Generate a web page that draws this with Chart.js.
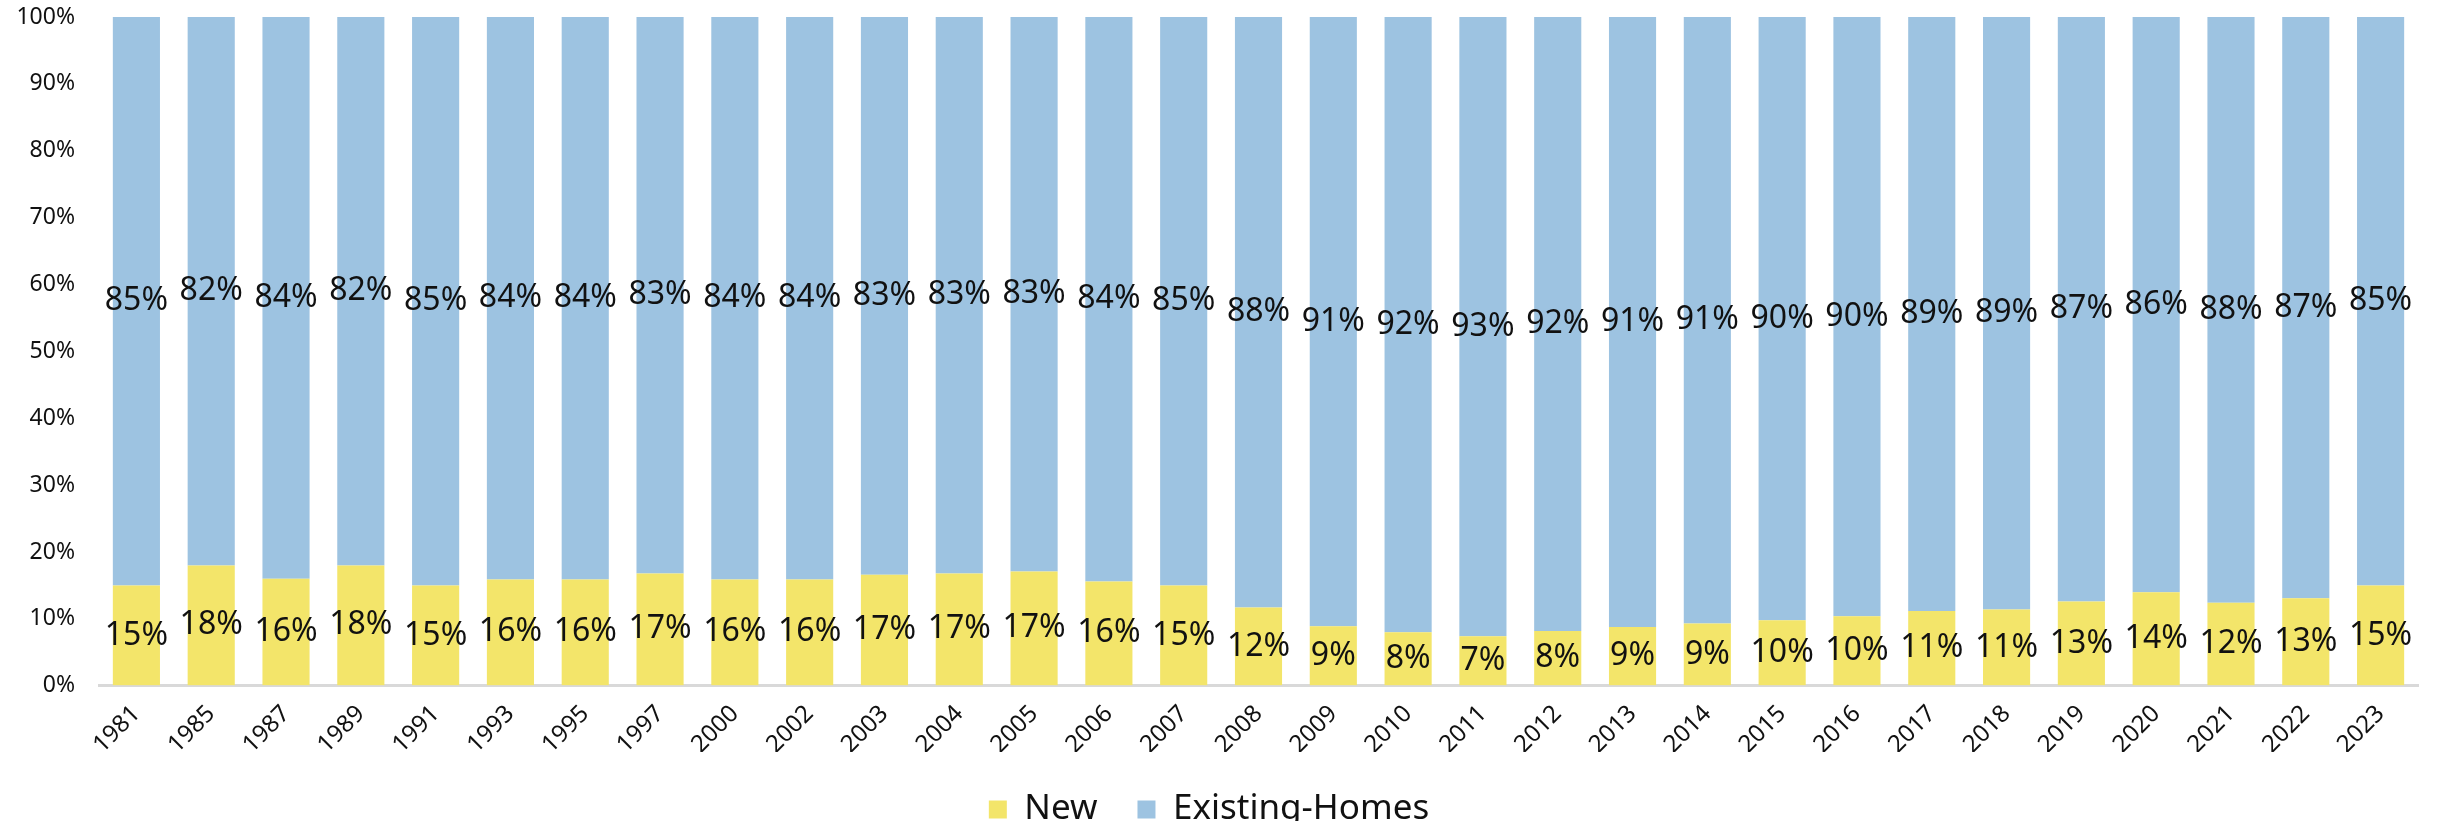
<!DOCTYPE html>
<html>
<head>
<meta charset="utf-8">
<script src="https://cdn.jsdelivr.net/npm/chart.js@4.4.1/dist/chart.umd.min.js"></script>
<style>
    html, body { margin: 0; padding: 0; background: #fff; }
    #wrap { width: 2438px; height: 821px; position: relative; }
</style>
</head>
<body>
<div id="wrap"><canvas id="shareChart"></canvas></div>
<script>
const years = ['1981', '1985', '1987', '1989', '1991', '1993', '1995', '1997', '2000', '2002',
    '2003', '2004', '2005', '2006', '2007', '2008', '2009', '2010', '2011', '2012',
    '2013', '2014', '2015', '2016', '2017', '2018', '2019', '2020', '2021', '2022', '2023'];

const newShare = [15, 18, 16, 18, 15, 15.9, 15.9, 16.8, 15.9, 15.9,
    16.6, 16.8, 17.1, 15.6, 15, 11.7, 8.9, 8, 7.4, 8.2,
    8.8, 9.3, 9.8, 10.4, 11.2, 11.4, 12.6, 14, 12.4, 13.1, 15];

const existingShare = [85, 82, 84, 82, 85, 84.1, 84.1, 83.2, 84.1, 84.1,
    83.4, 83.2, 82.9, 84.4, 85, 88.3, 91.1, 92, 92.6, 91.8,
    91.2, 90.7, 90.2, 89.6, 88.8, 88.6, 87.4, 86, 87.6, 86.9, 85];

const yTicks = [0, 10, 20, 30, 40, 50, 60, 70, 80, 90, 100];

const fontFamily = '"Noto Sans", Lato, sans-serif';

// draws the rounded percentage in the middle of each stacked segment
const segmentLabels = {
    id: 'segmentLabels',
    afterDatasetsDraw(chart) {
        const ctx = chart.ctx;
        ctx.save();
        ctx.font = '32px ' + fontFamily;
        ctx.fillStyle = '#111';
        ctx.textAlign = 'center';
        ctx.textBaseline = 'middle';
        chart.data.datasets.forEach((ds, i) => {
            const meta = chart.getDatasetMeta(i);
            meta.data.forEach((bar, j) => {
                const p = bar.getProps(['x', 'y', 'base'], true);
                ctx.fillText(Math.round(ds.data[j]) + '%', p.x, (p.y + p.base) / 2);
            });
        });
        ctx.restore();
    }
};

new Chart(document.getElementById('shareChart').getContext('2d'), {
    type: 'bar',
    data: {
        labels: years,
        datasets: [{
            label: 'New',
            data: newShare,
            backgroundColor: '#F3E56A',
            barPercentage: 0.63,
            categoryPercentage: 1
        }, {
            label: 'Existing-Homes',
            data: existingShare,
            backgroundColor: '#9DC3E1',
            barPercentage: 0.63,
            categoryPercentage: 1
        }]
    },
    options: {
        responsive: true,
        maintainAspectRatio: false,
        animation: false,
        layout: {
            padding: { top: 17, right: 20, left: 0, bottom: -16 }
        },
        plugins: {
            legend: {
                position: 'bottom',
                labels: {
                    font: { family: fontFamily, size: 35 },
                    color: '#111',
                    boxWidth: 18,
                    boxHeight: 18,
                    padding: 40
                }
            },
            tooltip: { enabled: false }
        },
        scales: {
            x: {
                stacked: true,
                grid: { display: false },
                border: { display: true, color: '#D9D9D9', width: 3 },
                afterFit: function(scale) {
                    scale.height = scale.height - 13;
                },
                ticks: {
                    color: '#111',
                    font: { family: fontFamily, size: 24 },
                    minRotation: 45,
                    maxRotation: 45,
                    padding: 6
                }
            },
            y: {
                stacked: true,
                min: 0,
                max: 100,
                grid: {
                    display: true,
                    drawOnChartArea: false,
                    drawTicks: true,
                    tickLength: 24,
                    color: 'rgba(0,0,0,0)'
                },
                border: { display: false },
                afterBuildTicks: function(scale) {
                    scale.ticks = yTicks.map(v => ({ value: v }));
                },
                afterFit: function(scale) {
                    scale.width = 99;
                },
                ticks: {
                    color: '#111',
                    font: { family: fontFamily, size: 23 },
                    padding: 0,
                    callback: v => v + '%'
                }
            }
        }
    },
    plugins: [segmentLabels]
});
</script>
</body>
</html>
